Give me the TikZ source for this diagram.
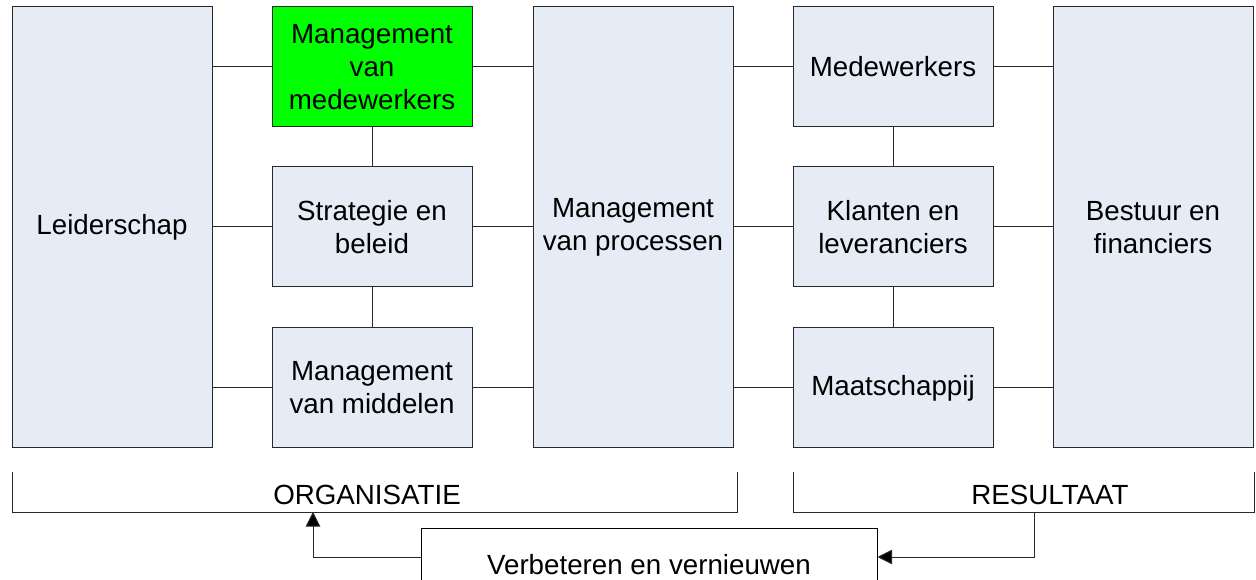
\documentclass[tikz,border=0pt]{standalone}
\usepackage{fontspec}
\setmainfont{Liberation Sans}
\usetikzlibrary{arrows.meta}
\definecolor{boxfill}{RGB}{230,236,246}
\definecolor{boxgreen}{RGB}{0,255,0}
\definecolor{edge}{RGB}{40,40,40}
\begin{document}
\begin{tikzpicture}[x=0.75pt,y=-0.75pt,
  every node/.style={font=\fontsize{20.8}{24.8}\selectfont},
  blk/.style={draw=edge,line width=0.75pt,fill=boxfill,inner sep=0pt,align=center,
     minimum width=150pt,minimum height=90pt},
  tall/.style={blk,minimum height=330.75pt},
  conn/.style={draw=edge,line width=0.75pt},
  arr/.style={conn,-{Triangle[length=11pt,width=11pt,fill=black]}}]
\useasboundingbox (0,0) rectangle (1256,580);
% boxes
\node[tall] (L) at (112,227.5) {Leiderschap};
\node[blk,fill=boxgreen] (MM) at (372,67) {Management\\van\\medewerkers};
\node[blk] (SB) at (372,227) {Strategie en\\beleid};
\node[blk] (MI) at (372,388) {Management\\van middelen};
\node[tall] (MP) at (633,227.5) {Management\\van processen};
\node[blk] (ME) at (893,67) {Medewerkers};
\node[blk] (KL) at (893,227) {Klanten en\\leveranciers};
\node[blk] (MA) at (893,388) {Maatschappij};
\node[tall] (BF) at (1153,227.5) {Bestuur en\\financiers};
% connectors
\foreach \n in {MM,SB,MI}{
  \draw[conn] (\n.west) -- (\n.west -| L.east);
  \draw[conn] (\n.east) -- (\n.east -| MP.west);
}
\foreach \n in {ME,KL,MA}{
  \draw[conn] (\n.west) -- (\n.west -| MP.east);
  \draw[conn] (\n.east) -- (\n.east -| BF.west);
}
\draw[conn] (MM.south) -- (SB.north);
\draw[conn] (SB.south) -- (MI.north);
\draw[conn] (ME.south) -- (KL.north);
\draw[conn] (KL.south) -- (MA.north);
% brackets
\coordinate (o0) at (12,472);
\coordinate (o3) at (737,472);
\draw[conn] (o0) -- (12,512) -- (737,512) -- (o3);
\node (ORG) at (367,495) {ORGANISATIE};
\coordinate (r0) at (793,472);
\coordinate (r3) at (1254,472);
\draw[conn] (r0) -- (793,512) -- (1254,512) -- (r3);
\node (RES) at (1050,495) {RESULTAAT};
% feedback box
\node[draw=black,line width=0.75pt,fill=white,minimum width=342pt,minimum height=55.5pt,inner sep=0pt] (V) at (649,565) {Verbeteren en vernieuwen};
\coordinate (ya) at (0,557);
\coordinate (rb) at (1034,512);
\coordinate (ob) at (313,512);
\draw[arr] (rb) |- (ya -| V.east);
\draw[arr] (ya -| V.west) -| (ob);
\end{tikzpicture}
\end{document}
